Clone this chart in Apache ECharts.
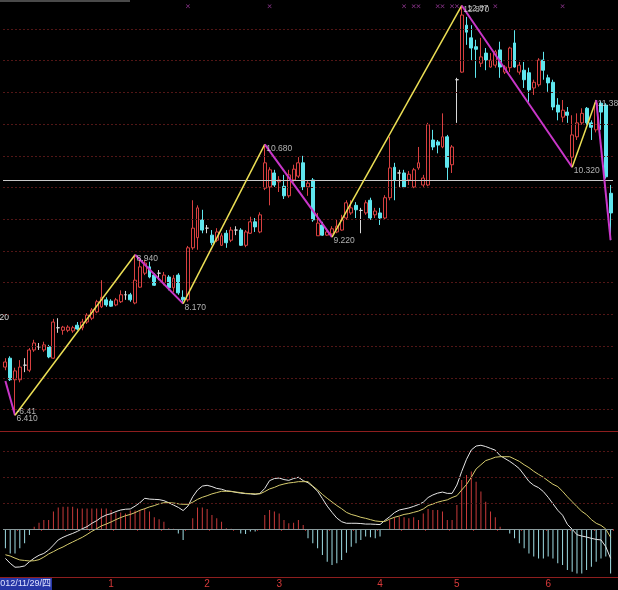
<!DOCTYPE html>
<html><head><meta charset="utf-8">
<script src="https://cdn.jsdelivr.net/npm/echarts@6/dist/echarts.min.js"></script>
<style>html,body{margin:0;padding:0;background:#000;}#c{width:618px;height:590px;}</style>
</head><body><div id="c"></div>
<script>
// ---- daily candles: [open, close, low, high] ----
const candles = [
[7.17,7.25,7.12,7.31],[7.31,6.97,6.95,7.34],[6.97,7.11,6.41,7.16],[6.97,7.17,6.93,7.28],[7.20,7.20,7.09,7.31],
[7.12,7.44,7.09,7.47],[7.44,7.55,7.41,7.60],[7.49,7.49,7.44,7.55],[7.44,7.52,7.41,7.57],[7.49,7.33,7.31,7.52],
[7.31,7.88,7.30,7.93],[7.79,7.79,7.71,7.94],[7.75,7.80,7.68,7.82],[7.75,7.80,7.72,7.83],[7.74,7.79,7.71,7.82],
[7.83,7.77,7.75,7.88],[7.79,7.88,7.75,7.93],[7.88,7.99,7.85,8.02],[7.94,8.07,7.91,8.10],[8.04,8.20,8.02,8.23],
[8.12,8.27,8.10,8.54],[8.23,8.15,8.12,8.27],[8.21,8.13,8.12,8.24],[8.15,8.23,8.13,8.26],[8.20,8.31,8.18,8.38],
[8.31,8.31,8.23,8.37],[8.31,8.23,8.20,8.34],[8.18,8.54,8.16,8.94],[8.43,8.75,8.42,8.86],[8.65,8.81,8.62,8.86],
[8.75,8.59,8.57,8.83],[8.62,8.46,8.45,8.65],[8.65,8.65,8.54,8.70],[8.50,8.62,8.46,8.67],[8.59,8.42,8.38,8.62],
[8.42,8.57,8.35,8.62],[8.62,8.34,8.31,8.65],[8.27,8.23,8.17,8.38],[8.23,9.05,8.20,9.08],[9.05,9.36,9.02,9.80],
[9.21,9.68,9.02,9.72],[9.49,9.33,9.28,9.65],[9.36,9.36,9.28,9.41],[9.25,9.13,9.09,9.33],[9.17,9.30,9.14,9.36],
[9.09,9.24,9.08,9.28],[9.28,9.13,9.05,9.33],[9.17,9.33,9.14,9.38],[9.33,9.33,9.25,9.39],[9.33,9.09,9.08,9.36],
[9.09,9.30,9.06,9.33],[9.28,9.46,9.27,9.54],[9.46,9.38,9.30,9.52],[9.30,9.57,9.28,9.61],[9.99,10.39,9.96,10.68],
[10.01,10.28,9.72,10.32],[10.23,10.04,10.01,10.28],[10.09,10.12,9.93,10.18],[10.02,9.87,9.82,10.20],[9.87,10.20,9.84,10.28],
[10.12,10.29,10.09,10.36],[10.18,10.39,10.15,10.48],[10.39,10.01,9.96,10.50],[10.01,10.07,9.87,10.12],[10.12,9.49,9.46,10.15],
[9.24,9.44,9.24,9.60],[9.41,9.25,9.24,9.46],[9.25,9.30,9.24,9.36],[9.27,9.35,9.22,9.39],[9.30,9.39,9.28,9.49],
[9.33,9.49,9.32,9.57],[9.52,9.76,9.49,9.80],[9.60,9.68,9.57,9.80],[9.72,9.65,9.52,9.77],[9.64,9.64,9.28,9.68],
[9.60,9.76,9.57,9.80],[9.80,9.52,9.49,9.84],[9.57,9.63,9.52,9.68],[9.60,9.52,9.41,9.68],[9.52,9.84,9.50,9.88],
[9.84,10.31,9.80,10.80],[10.32,10.12,9.80,10.39],[10.23,10.23,10.01,10.28],[10.23,10.01,9.99,10.28],[10.12,10.21,10.04,10.26],
[10.01,10.28,9.99,10.31],[10.31,10.39,10.28,10.64],[10.04,10.15,10.01,10.20],[10.04,10.99,10.02,11.02],[10.75,10.64,10.59,10.91],
[10.72,10.67,10.54,10.75],[10.64,10.80,10.62,11.17],[10.80,10.32,10.12,10.83],[10.36,10.64,10.23,10.67],[11.70,11.70,11.02,11.73],
[11.82,12.72,11.81,12.87],[12.56,12.45,12.25,12.69],[12.36,12.20,12.01,12.56],[12.22,12.18,11.73,12.33],[11.96,12.06,11.90,12.36],
[12.12,12.01,11.85,12.20],[11.90,12.01,11.89,12.12],[11.93,12.14,11.89,12.17],[12.17,11.90,11.73,12.30],[11.82,11.90,11.79,11.93],
[11.89,12.20,11.82,12.22],[12.28,11.90,11.89,12.48],[11.82,11.93,11.78,11.98],[11.85,11.70,11.57,11.98],[11.81,11.54,11.35,11.89],
[11.57,11.66,11.46,11.70],[11.62,12.01,11.59,12.04],[12.01,11.85,11.70,12.14],[11.73,11.65,11.51,11.78],[11.66,11.27,11.22,11.70],
[11.30,11.19,11.06,11.41],[11.11,11.22,11.03,11.38],[11.19,11.14,11.02,11.27],[10.48,10.83,10.32,11.14],[10.80,11.02,10.75,11.17],
[11.02,11.17,10.99,11.25],[11.25,11.02,10.99,11.27],[11.02,10.95,10.75,11.06],[10.91,11.33,10.87,11.38],[11.33,11.19,10.91,11.36],
[11.30,10.17,10.14,11.33],[9.91,9.60,9.17,10.04]
];
// ---- zigzag turning points (bar index, price) ----
const zzIdx = [0, 2, 27, 37, 54, 68, 95, 118, 123, 126];
const zzVal = [6.95, 6.41, 8.94, 8.17, 10.68, 9.22, 12.87, 10.32, 11.38, 9.17];
const zzLabeled = [false, true, true, true, true, true, true, true, true, false];
// ---- signal marks along the top ----
const signalIdx = [38, 55, 83, 85, 86, 90, 91, 93, 94, 102, 116];
const signalLevel = 12.86;
// ---- reference / grid levels ----
const refPrice = 10.12;
const priceGrid = [6.5, 7, 7.5, 8, 8.5, 9, 9.5, 10, 10.5, 11, 11.5, 12, 12.5];
// ---- MACD ----
const hist = [
-0.074,-0.094,-0.094,-0.074,-0.055,-0.023,0.009,0.024,0.035,0.035,
0.067,0.083,0.086,0.086,0.086,0.079,0.079,0.079,0.079,0.079,
0.079,0.079,0.073,0.063,0.063,0.060,0.071,0.071,0.073,0.079,
0.067,0.045,0.037,0.028,0.003,0.001,-0.017,-0.042,0.000,0.041,
0.083,0.083,0.077,0.054,0.041,0.028,0.003,0.001,-0.002,-0.017,
-0.019,-0.010,-0.010,-0.002,0.054,0.073,0.067,0.060,0.035,0.022,
0.024,0.035,0.015,-0.036,-0.055,-0.074,-0.100,-0.126,-0.138,-0.132,
-0.119,-0.091,-0.068,-0.055,-0.042,-0.029,-0.032,-0.036,-0.029,-0.004,
0.035,0.045,0.047,0.045,0.041,0.045,0.035,0.060,0.077,0.073,
0.073,0.067,0.035,0.035,0.092,0.188,0.208,0.221,0.182,0.144,
0.105,0.067,0.045,0.009,-0.004,-0.017,-0.036,-0.055,-0.074,-0.094,
-0.106,-0.113,-0.113,-0.106,-0.113,-0.132,-0.138,-0.158,-0.164,-0.171,
-0.171,-0.158,-0.145,-0.126,-0.113,-0.106,-0.171];
const dif = [
-0.113,-0.132,-0.147,-0.146,-0.142,-0.126,-0.112,-0.101,-0.094,-0.081,
-0.062,-0.042,-0.032,-0.024,-0.017,-0.009,0.001,0.009,0.022,0.032,
0.045,0.054,0.059,0.067,0.073,0.076,0.077,0.088,0.101,0.118,
0.115,0.114,0.113,0.109,0.101,0.092,0.083,0.071,0.088,0.124,
0.150,0.165,0.168,0.163,0.156,0.153,0.147,0.145,0.141,0.138,
0.136,0.135,0.133,0.137,0.156,0.186,0.194,0.196,0.190,0.187,
0.194,0.199,0.186,0.178,0.163,0.145,0.117,0.088,0.064,0.042,
0.028,0.022,0.022,0.022,0.021,0.019,0.019,0.018,0.017,0.033,
0.047,0.063,0.073,0.077,0.081,0.087,0.094,0.103,0.121,0.131,
0.138,0.142,0.137,0.137,0.169,0.221,0.268,0.304,0.319,0.322,
0.317,0.310,0.303,0.282,0.271,0.260,0.247,0.232,0.208,0.183,
0.168,0.159,0.144,0.122,0.097,0.072,0.053,0.018,-0.001,-0.022,
-0.027,-0.031,-0.036,-0.040,-0.042,-0.068,-0.113];
const dea = [
-0.099,-0.104,-0.112,-0.119,-0.121,-0.123,-0.122,-0.118,-0.108,-0.096,
-0.087,-0.077,-0.069,-0.059,-0.050,-0.041,-0.032,-0.021,-0.009,0.001,
0.012,0.019,0.027,0.036,0.044,0.051,0.056,0.063,0.072,0.078,
0.085,0.090,0.097,0.101,0.101,0.100,0.097,0.095,0.095,0.103,
0.114,0.122,0.128,0.135,0.140,0.145,0.145,0.144,0.142,0.140,
0.137,0.136,0.135,0.135,0.144,0.154,0.160,0.168,0.173,0.177,
0.179,0.182,0.182,0.182,0.165,0.150,0.133,0.118,0.104,0.090,
0.078,0.064,0.056,0.051,0.045,0.041,0.036,0.031,0.029,0.029,
0.038,0.045,0.050,0.056,0.059,0.064,0.069,0.077,0.090,0.096,
0.103,0.108,0.112,0.121,0.128,0.150,0.171,0.199,0.231,0.247,
0.263,0.269,0.276,0.278,0.278,0.278,0.269,0.260,0.247,0.236,
0.222,0.210,0.199,0.185,0.172,0.163,0.145,0.124,0.105,0.086,
0.068,0.055,0.036,0.022,0.014,0.000,-0.032];
const macdGrid = [0.1, 0.2, 0.3];
// ---- x axis ----
const categories = candles.map((_, i) => String(i));
const monthIdx = [22, 42, 57, 78, 94, 113];
const monthLabels = ['1', '2', '3', '4', '5', '6'];
const dateText = '2012/11/29/四';
const edgeLabel = '7.920';

const RED = '#d84040', CYAN = '#5fe6ee', GRIDC = '#521616';
const FONT = '"Liberation Sans", Arial, "Noto Sans CJK SC", sans-serif';

const candleData = candles.map(d => d[0] === d[1]
  ? {value: d, itemStyle: {color: '#d8d8d8', color0: '#d8d8d8', borderColor: '#d8d8d8', borderColor0: '#d8d8d8'}}
  : d);

const zzSeries = [];
for (let k = 0; k < zzIdx.length - 1; k++) {
  const up = zzVal[k + 1] > zzVal[k];
  zzSeries.push({
    type: 'line', xAxisIndex: 0, yAxisIndex: 0, z: 5,
    data: [[zzIdx[k], zzVal[k]], [zzIdx[k + 1], zzVal[k + 1]]],
    showSymbol: false, symbol: 'none', silent: true,
    lineStyle: {color: up ? '#ecdf55' : '#c936c9', width: up ? 1.5 : 2}
  });
}
const labelData = [];
zzIdx.forEach((ix, k) => { if (zzLabeled[k]) labelData.push({value: [ix, zzVal[k]], label: {formatter: zzVal[k].toFixed(3)}}); });
labelData.push({value: [zzIdx[6], zzVal[6]], label: {formatter: zzVal[6].toFixed(2), position: [6, -1]}});
labelData.push({value: [zzIdx[1], zzVal[1]], label: {formatter: '-' + zzVal[1].toFixed(2), position: [2, -7]}});

const chart = echarts.init(document.getElementById('c'), null, {renderer: 'canvas'});
chart.setOption({
  backgroundColor: '#000',
  animation: false,
  grid: [
    {left: 3, width: 610, top: 0, height: 430},
    {left: 3, width: 610, top: 432, height: 145}
  ],
  xAxis: [
    {type: 'category', gridIndex: 0, data: categories, boundaryGap: true, show: false},
    {type: 'category', gridIndex: 1, data: categories, boundaryGap: true,
     axisLine: {show: false},
     axisTick: {show: true, length: 2, lineStyle: {color: '#a02828'}, interval: (i) => i % 5 === 3},
     axisLabel: {show: true, color: '#d83a3a', fontSize: 10, fontFamily: FONT, margin: 2,
       interval: (i) => monthIdx.indexOf(i) >= 0,
       formatter: (v, i) => { const k = monthIdx.indexOf(i); return k >= 0 ? monthLabels[k] : ''; }},
     splitLine: {show: false}}
  ],
  yAxis: [
    {type: 'value', gridIndex: 0, min: 6.178, max: 12.957, show: false, splitLine: {show: false}},
    {type: 'value', gridIndex: 1, min: -0.1846, max: 0.373, show: false, splitLine: {show: false}}
  ],
  series: [
    {type: 'candlestick', xAxisIndex: 0, yAxisIndex: 0, data: candleData, barWidth: 3.4, z: 3,
     itemStyle: {color: '#000', color0: CYAN, borderColor: RED, borderColor0: CYAN, borderWidth: 1},
     markLine: {silent: true, symbol: 'none', animation: false, label: {show: false},
       data: priceGrid.map(v => ({yAxis: v, lineStyle: {color: GRIDC, type: [2, 2], width: 1}}))
         .concat([{yAxis: refPrice, lineStyle: {color: '#c8c8c8', type: 'solid', width: 1}}])}},
    ...zzSeries,
    {type: 'scatter', xAxisIndex: 0, yAxisIndex: 0, z: 6, symbolSize: 1, silent: true,
     itemStyle: {color: 'rgba(0,0,0,0)'},
     label: {show: true, position: [2, 0], align: 'left', verticalAlign: 'top', color: '#dcdcdc', fontSize: 8.5, fontFamily: FONT},
     data: labelData},
    {type: 'scatter', xAxisIndex: 0, yAxisIndex: 0, z: 6, silent: true,
     symbol: 'path://M0,1L1,0L5,4L9,0L10,1L6,5L10,9L9,10L5,6L1,10L0,9L4,5Z', symbolSize: 4,
     itemStyle: {color: '#c44ac4'},
     data: signalIdx.map(i => [i, signalLevel])},
    {type: 'bar', xAxisIndex: 1, yAxisIndex: 1, data: hist, barWidth: 1,
     itemStyle: {color: (p) => p.value >= 0 ? '#c83a3a' : '#9fdde4'},
     markLine: {silent: true, symbol: 'none', animation: false, label: {show: false},
       data: macdGrid.map(v => ({yAxis: v, lineStyle: {color: GRIDC, type: [2, 2], width: 1}}))
         .concat([{yAxis: 0, lineStyle: {color: '#8a9a9c', type: 'solid', width: 1}}])}},
    {type: 'line', xAxisIndex: 1, yAxisIndex: 1, data: dif, showSymbol: false, symbol: 'none', z: 4,
     lineStyle: {color: '#e6e6e6', width: 1}},
    {type: 'line', xAxisIndex: 1, yAxisIndex: 1, data: dea, showSymbol: false, symbol: 'none', z: 4,
     lineStyle: {color: '#d6cc6e', width: 1}}
  ],
  graphic: [
    {type: 'rect', shape: {x: 0, y: 0, width: 130, height: 2}, style: {fill: '#4a4a4a'}, silent: true},
    {type: 'line', shape: {x1: 0, y1: 431.5, x2: 618, y2: 431.5}, style: {stroke: '#8e1e1e', lineWidth: 1}, silent: true},
    {type: 'line', shape: {x1: 0, y1: 577.5, x2: 618, y2: 577.5}, style: {stroke: '#8e1e1e', lineWidth: 1}, silent: true},
    {type: 'rect', shape: {x: 0, y: 578, width: 52, height: 12}, style: {fill: '#2636a6'}, silent: true},
    {type: 'text', x: 51, y: 584, silent: true,
     style: {text: dateText, fill: '#dfe2ff', font: '9px ' + FONT, align: 'right', verticalAlign: 'middle'}},
    {type: 'text', x: 9, y: 318, silent: true,
     style: {text: edgeLabel, fill: '#dcdcdc', font: '8.5px ' + FONT, align: 'right', verticalAlign: 'middle'}}
  ]
});
</script></body></html>
